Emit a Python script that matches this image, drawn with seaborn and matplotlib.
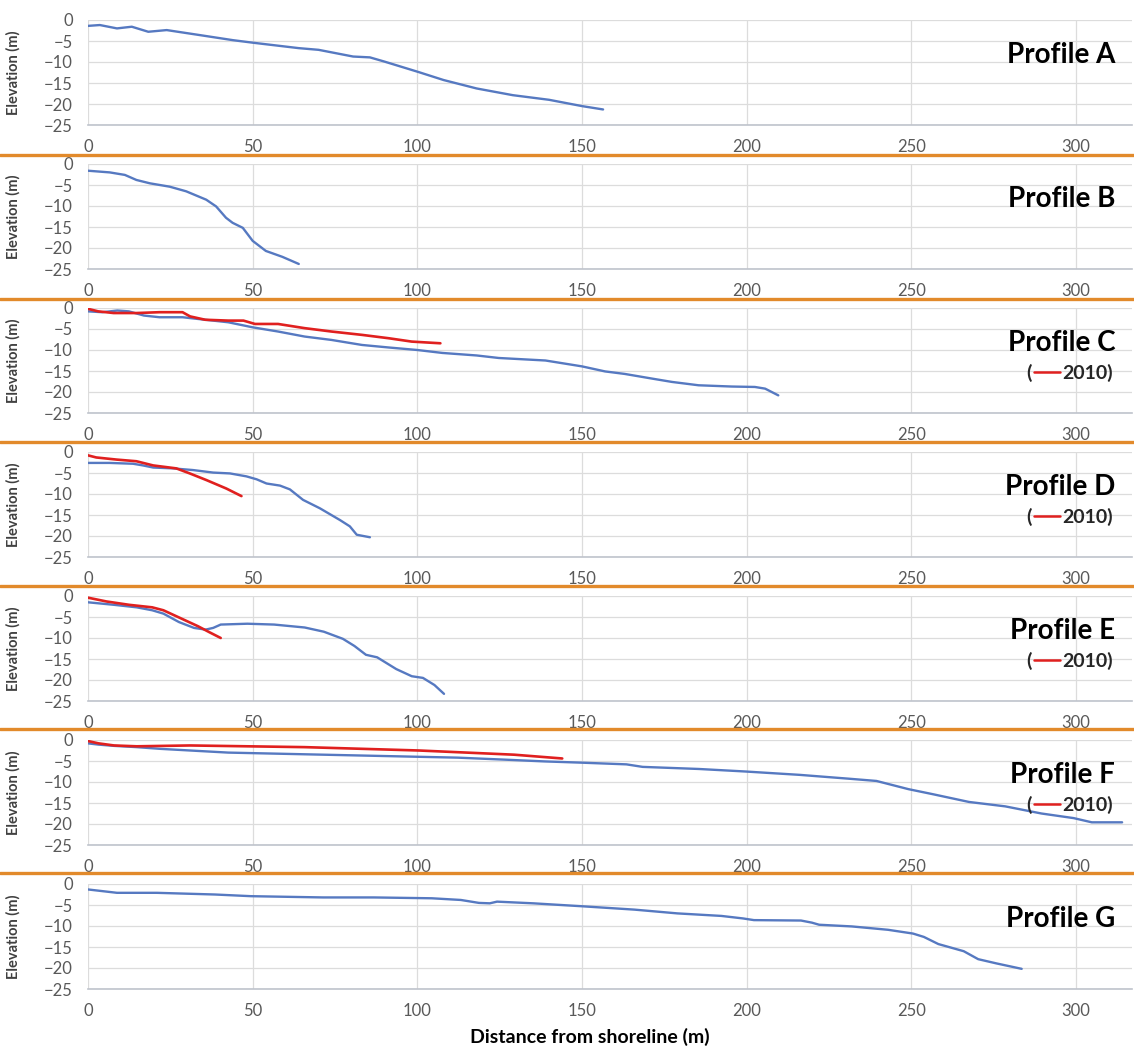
import numpy as np
import matplotlib
matplotlib.use("Agg")
import matplotlib.pyplot as plt
import seaborn as sns
from matplotlib.lines import Line2D
from matplotlib.offsetbox import TextArea, DrawingArea, HPacker, AnchoredOffsetbox
import matplotlib.transforms as mtransforms

# Profile data (distance m, elevation m)
a_x = [0, 3.6, 8.8, 13.3, 18.3, 23.9, 34, 44, 50, 64, 70, 80.5, 85.6, 90, 95, 100, 108, 118, 129, 140, 150, 156.4]
a_y = [-1.4, -1.2, -2.0, -1.6, -2.8, -2.4, -3.6, -4.8, -5.4, -6.7, -7.1, -8.7, -8.9, -9.9, -11.1, -12.3, -14.3, -16.3, -17.9, -19.0, -20.5, -21.3]

b_x = [0, 6.6, 11.2, 14.7, 18.8, 24.8, 29.8, 35.9, 38.9, 41.9, 43.9, 47, 50, 54, 59, 64]
b_y = [-1.6, -2.0, -2.6, -3.8, -4.6, -5.4, -6.5, -8.5, -10.1, -12.8, -14.0, -15.2, -18.3, -20.7, -22.1, -23.8]

c_x = [0, 4.3, 8.9, 12.4, 17, 21.7, 28.7, 35.6, 42.6, 50, 57.7, 65.8, 73.9, 83.2, 91.3, 100, 107.6, 118, 124.7,
       138.9, 150, 157, 163, 171.2, 177.3, 185.4, 195.5, 202.5, 205.6, 209.6]
c_y = [-0.8, -1.0, -0.6, -0.8, -1.8, -2.2, -2.2, -2.8, -3.4, -4.6, -5.6, -6.8, -7.6, -8.8, -9.4, -10.0, -10.7, -11.3, -11.9,
       -12.5, -13.9, -15.1, -15.7, -16.8, -17.6, -18.4, -18.7, -18.8, -19.2, -20.8]
c2010_x = [0, 3.1, 7.8, 14.7, 21.7, 28.7, 31, 35.6, 42.6, 47.2, 50.7, 57.7, 65.8, 73.9, 83.2, 91.3, 98.3, 107]
c2010_y = [-0.2, -0.8, -1.2, -1.2, -1.0, -1.0, -2.0, -2.8, -3.0, -3.0, -3.8, -3.8, -4.8, -5.6, -6.4, -7.2, -8.0, -8.4]

d_x = [0, 6.6, 13.7, 16.7, 19.8, 25.8, 31.9, 38, 43.1, 48.1, 51.2, 54.2, 58.3, 61.3, 65.3, 70.4, 76.5, 79.5, 81.6, 85.6]
d_y = [-2.6, -2.6, -2.8, -3.2, -3.7, -3.9, -4.3, -4.9, -5.1, -5.8, -6.5, -7.5, -8.0, -8.9, -11.4, -13.4, -16.2, -17.7, -19.7, -20.3]
d2010_x = [0, 2.5, 8.6, 14.7, 19.8, 26.8, 30.9, 36, 42, 46.6]
d2010_y = [-0.8, -1.3, -1.8, -2.2, -3.2, -3.9, -5.1, -6.7, -8.7, -10.5]

e_x = [0, 7.9, 14.8, 19.5, 22.9, 27.6, 32.2, 35.7, 38, 40.3, 48.4, 56.5, 65.8, 71.6, 77.4, 80.9, 84.4, 87.8, 93.6,
       98.3, 101.7, 105.2, 108.1]
e_y = [-1.5, -2.1, -2.7, -3.4, -4.2, -6.2, -7.6, -8.0, -7.6, -6.8, -6.6, -6.8, -7.5, -8.5, -10.2, -11.9, -14.0, -14.6, -17.4,
       -19.1, -19.5, -21.2, -23.3]
e2010_x = [0, 5.6, 12.5, 19.5, 22.9, 27.6, 33.4, 36.8, 40.3]
e2010_y = [-0.4, -1.3, -2.1, -2.7, -3.4, -5.1, -7.2, -8.6, -10.0]

f_x = [0, 3.2, 7.9, 14.8, 21.8, 31, 42.6, 54.2, 65.8, 77.4, 89, 100.5, 112.2, 127.2, 138.7, 150, 163.5, 168.4, 185.5,
       199.6, 216.1, 230.8, 239.4, 249.1, 256.5, 267.5, 278.5, 289.5, 299.3, 304.8, 314]
f_y = [-0.8, -1.1, -1.4, -1.7, -2.1, -2.5, -3.0, -3.2, -3.4, -3.6, -3.8, -4.0, -4.2, -4.7, -5.1, -5.4, -5.8, -6.4, -6.9,
       -7.5, -8.3, -9.2, -9.75, -11.7, -12.9, -14.75, -15.8, -17.5, -18.6, -19.6, -19.6]
f2010_x = [0, 3.2, 7.9, 14.8, 31, 48.4, 65.8, 83.2, 100.5, 117.9, 129.4, 144]
f2010_y = [-0.25, -0.8, -1.3, -1.5, -1.3, -1.5, -1.7, -2.1, -2.5, -3.1, -3.5, -4.4]

g_x = [0, 8.8, 20.9, 38.5, 49.5, 71.4, 86.8, 104.4, 113.2, 118.7, 122, 124.2, 135.2, 150, 165.9, 179, 192.3, 198.9,
       202.2, 216.5, 219.8, 222, 231.9, 242.9, 250.5, 253.8, 258.2, 265.9, 270.3, 275.8, 283.5]
g_y = [-1.3, -2.1, -2.1, -2.5, -2.9, -3.2, -3.2, -3.4, -3.8, -4.5, -4.6, -4.2, -4.6, -5.3, -6.1, -7.0, -7.6, -8.2,
       -8.6, -8.7, -9.2, -9.7, -10.1, -10.9, -11.8, -12.6, -14.3, -16.0, -17.9, -18.9, -20.2]

profiles = ["A", "B", "C", "D", "E", "F", "G"]
current = [(a_x, a_y), (b_x, b_y), (c_x, c_y), (d_x, d_y), (e_x, e_y), (f_x, f_y), (g_x, g_y)]
survey_2010 = {"C": (c2010_x, c2010_y), "D": (d2010_x, d2010_y), "E": (e2010_x, e2010_y), "F": (f2010_x, f2010_y)}

x_ticks = [0, 50, 100, 150, 200, 250, 300]
y_ticks = [0, -5, -10, -15, -20, -25]

blue = "#5679c1"
red = "#e0201f"
orange = "#e28a2b"

sns.set_style("white")
plt.rcParams["font.family"] = ["Lato", "DejaVu Sans"]

W, H = 1134, 1047
fig = plt.figure(figsize=(W / 100, H / 100), dpi=100)

left, right = 88, 1132
for i, (name, (xs, ys)) in enumerate(zip(profiles, current)):
    top = 20 + 144 * i
    ax = fig.add_axes([left / W, 1 - (top + 105) / H, (right - left) / W, 105 / H])
    sns.lineplot(x=xs, y=ys, ax=ax, color=blue, lw=1.7, estimator=None, sort=False,
                 solid_joinstyle="round", solid_capstyle="round")
    if name in survey_2010:
        rx, ry = survey_2010[name]
        sns.lineplot(x=rx, y=ry, ax=ax, color=red, lw=1.9, estimator=None, sort=False,
                     solid_joinstyle="round", solid_capstyle="round")

    ax.set_xlim(0, 317)
    ax.set_ylim(-25, 0)
    ax.set_xticks(x_ticks)
    ax.set_yticks(y_ticks)
    ax.grid(True, color="#dcdcdc", lw=0.9)
    ax.set_axisbelow(True)
    for s in ["top", "right", "left"]:
        ax.spines[s].set_visible(False)
    ax.spines["bottom"].set_color("#bfc3cc")
    ax.spines["bottom"].set_linewidth(1.2)
    ax.tick_params(length=0, labelsize=12, labelcolor="#595959")
    ax.tick_params(axis="y", pad=11)
    ax.tick_params(axis="x", pad=10)
    ax.set_ylabel("Elevation (m)", fontsize=10.5, fontweight="bold", color="#404040")
    ax.yaxis.set_label_coords(-0.065, 0.5)

    trans = mtransforms.blended_transform_factory(ax.transAxes, ax.transData)
    ax.text(0.984, -10.2, f"Profile {name}", transform=trans, ha="right", va="baseline",
            fontsize=20, fontweight="bold", color="black")

    if name in survey_2010:
        dash = DrawingArea(19, 10, 0, 0)
        dash.add_artist(Line2D([0, 19], [5.5, 5.5], color=red, lw=1.8))
        box = HPacker(children=[TextArea("(", textprops=dict(fontsize=14, fontweight="bold")),
                                dash,
                                TextArea("2010)", textprops=dict(fontsize=14, fontweight="bold"))],
                      align="center", pad=0, sep=1.5)
        anchored = AnchoredOffsetbox(loc="center right", child=box, pad=0, borderpad=0, frameon=False,
                                     bbox_to_anchor=(0.982, 0.38), bbox_transform=ax.transAxes)
        ax.add_artist(anchored)

# orange separators between profiles
for i in range(6):
    y = 1 - (155 + 143.6 * i) / H
    fig.add_artist(Line2D([0, 1], [y, y], transform=fig.transFigure, color=orange, lw=2.4))

fig.text(590 / W, 1 - 1037 / H, "Distance from shoreline (m)", ha="center", va="center",
         fontsize=14, fontweight="bold", color="black")

fig.savefig("out.png", dpi=100, facecolor="white")
